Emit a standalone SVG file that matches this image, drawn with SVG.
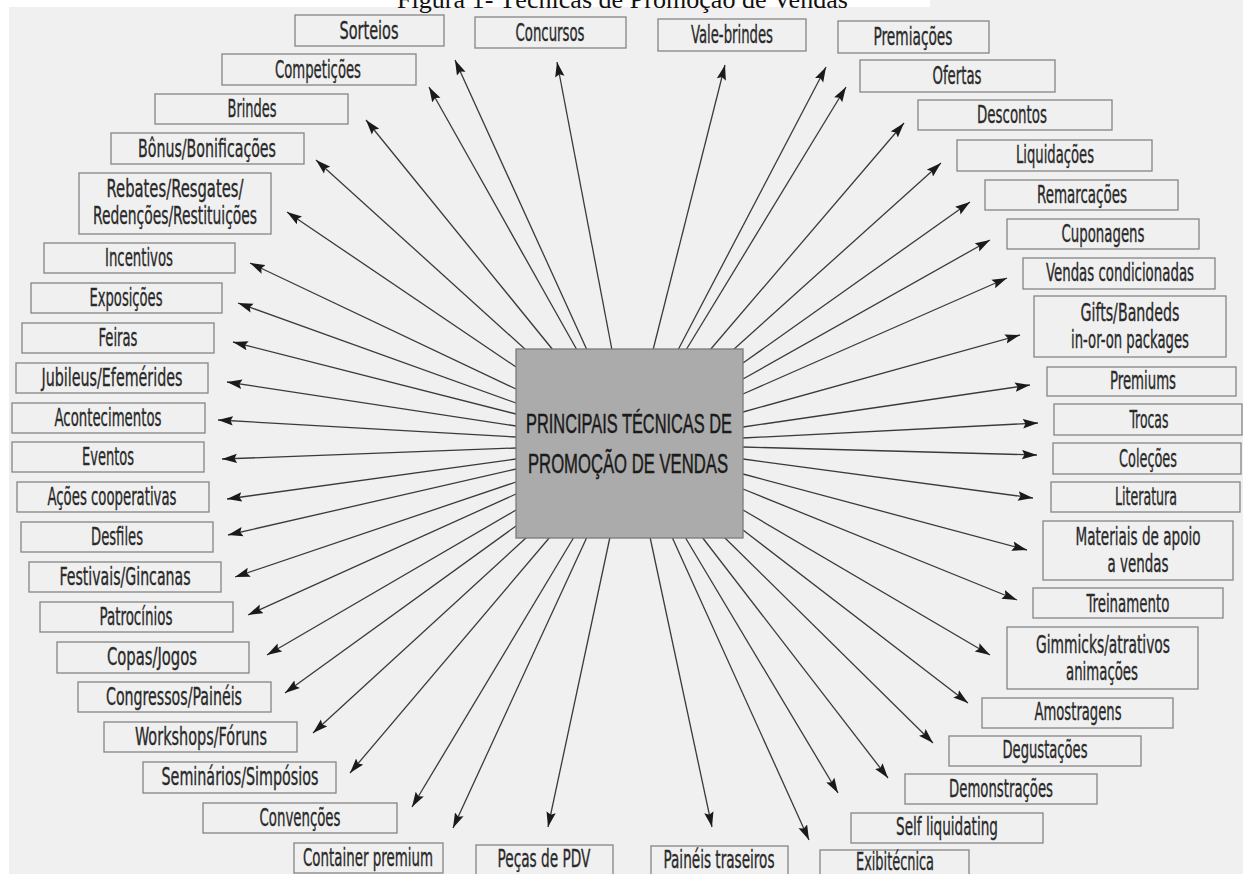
<svg xmlns="http://www.w3.org/2000/svg" width="1243" height="874" viewBox="0 0 1243 874">
<defs>
<marker id="ah" markerUnits="userSpaceOnUse" markerWidth="15" markerHeight="10" viewBox="0 0 15 10" refX="15" refY="5" orient="auto">
<path d="M0,0.3 L15,5 L0,9.7 L2.5,5 Z" fill="#1a1a1a"/>
</marker>
<style>
.bx{fill:none;stroke:#858585;stroke-width:1.3}
.t{font-family:"Liberation Sans Narrow","DejaVu Sans Condensed","Liberation Sans",sans-serif;font-size:24px;fill:#2a2a2a;stroke:#2a2a2a;stroke-width:0.35;text-anchor:middle}
.c{font-family:"Liberation Sans","DejaVu Sans",sans-serif;font-size:28px;fill:#1a1a1a;stroke:#1a1a1a;stroke-width:0.5;text-anchor:middle}
.title{font-family:"Liberation Serif","Times New Roman",serif;font-size:26px;fill:#111}
#connectors line{stroke:#3a3a3a;stroke-width:1.3;marker-end:url(#ah)}
</style>
</defs>
<rect x="0" y="0" width="1243" height="874" fill="#ffffff"/>
<rect x="9" y="7" width="1234" height="867" fill="#f0f0f0"/>
<rect x="930" y="0" width="313" height="8" fill="#f0f0f0"/>
<text class="title" x="397" y="8" textLength="451" lengthAdjust="spacingAndGlyphs">Figura 1- Técnicas de Promoção de Vendas</text>

<g id="connectors">
<line x1="526" y1="350" x2="316" y2="160"/>
<line x1="553" y1="350" x2="366" y2="120"/>
<line x1="577" y1="350" x2="429" y2="87"/>
<line x1="587" y1="350" x2="455" y2="60"/>
<line x1="612" y1="350" x2="557" y2="62"/>
<line x1="653" y1="350" x2="725" y2="65"/>
<line x1="678" y1="350" x2="826" y2="67"/>
<line x1="686" y1="350" x2="846" y2="87"/>
<line x1="710" y1="350" x2="904" y2="123"/>
<line x1="733" y1="350" x2="941" y2="163"/>
<line x1="743" y1="363" x2="970" y2="202"/>
<line x1="743" y1="379" x2="990" y2="240"/>
<line x1="743" y1="394" x2="1007" y2="278"/>
<line x1="743" y1="412" x2="1020" y2="335"/>
<line x1="743" y1="427" x2="1030" y2="385"/>
<line x1="743" y1="438" x2="1038" y2="423"/>
<line x1="743" y1="447" x2="1037" y2="455"/>
<line x1="743" y1="459" x2="1033" y2="498"/>
<line x1="743" y1="474" x2="1027" y2="550"/>
<line x1="743" y1="489" x2="1017" y2="600"/>
<line x1="743" y1="510" x2="990" y2="655"/>
<line x1="743" y1="530" x2="968" y2="703"/>
<line x1="724" y1="537" x2="933" y2="743"/>
<line x1="702" y1="537" x2="888" y2="778"/>
<line x1="685" y1="537" x2="838" y2="793"/>
<line x1="672" y1="537" x2="809" y2="840"/>
<line x1="650" y1="537" x2="712" y2="827"/>
<line x1="610" y1="537" x2="548" y2="827"/>
<line x1="587" y1="537" x2="453" y2="828"/>
<line x1="574" y1="537" x2="412" y2="807"/>
<line x1="550" y1="537" x2="350" y2="773"/>
<line x1="527" y1="537" x2="313" y2="733"/>
<line x1="516" y1="526" x2="285" y2="693"/>
<line x1="516" y1="510" x2="267" y2="655"/>
<line x1="516" y1="494" x2="248" y2="615"/>
<line x1="516" y1="482" x2="235" y2="577"/>
<line x1="516" y1="469" x2="228" y2="535"/>
<line x1="516" y1="459" x2="227" y2="499"/>
<line x1="516" y1="448" x2="222" y2="459"/>
<line x1="516" y1="437" x2="218" y2="420"/>
<line x1="516" y1="426" x2="227" y2="382"/>
<line x1="516" y1="414" x2="233" y2="342"/>
<line x1="516" y1="403" x2="238" y2="303"/>
<line x1="516" y1="389" x2="250" y2="263"/>
<line x1="516" y1="367" x2="287" y2="212"/>
</g>

<g id="center">
<rect x="516" y="349" width="227" height="189" fill="#ababab" stroke="#7a7a7a" stroke-width="1.3"/>
<text class="c" x="629" y="433" textLength="206" lengthAdjust="spacingAndGlyphs">PRINCIPAIS TÉCNICAS DE</text>
<text class="c" x="628" y="473" textLength="200" lengthAdjust="spacingAndGlyphs">PROMOÇÃO DE VENDAS</text>
</g>

<g id="sorteios"><rect class="bx" x="295" y="15" width="149" height="31"/><text class="t" x="369" y="39" textLength="59" lengthAdjust="spacingAndGlyphs">Sorteios</text></g>
<g id="concursos"><rect class="bx" x="475" y="17" width="151" height="31"/><text class="t" x="550" y="41" textLength="69" lengthAdjust="spacingAndGlyphs">Concursos</text></g>
<g id="vale-brindes"><rect class="bx" x="658" y="19" width="148" height="32"/><text class="t" x="732" y="43" textLength="82" lengthAdjust="spacingAndGlyphs">Vale-brindes</text></g>
<g id="premiacoes"><rect class="bx" x="838" y="21" width="151" height="32"/><text class="t" x="913" y="45" textLength="79" lengthAdjust="spacingAndGlyphs">Premiações</text></g>

<g id="competicoes"><rect class="bx" x="222" y="54" width="194" height="31"/><text class="t" x="318" y="78" textLength="86" lengthAdjust="spacingAndGlyphs">Competições</text></g>
<g id="brindes"><rect class="bx" x="155" y="94" width="193" height="30"/><text class="t" x="252" y="117" textLength="49" lengthAdjust="spacingAndGlyphs">Brindes</text></g>
<g id="bonus"><rect class="bx" x="111" y="133" width="193" height="31"/><text class="t" x="207" y="157" textLength="138" lengthAdjust="spacingAndGlyphs">Bônus/Bonificações</text></g>
<g id="rebates"><rect class="bx" x="79" y="173" width="192" height="61"/><text class="t" x="175" y="197" textLength="137" lengthAdjust="spacingAndGlyphs">Rebates/Resgates/</text><text class="t" x="175" y="224" textLength="164" lengthAdjust="spacingAndGlyphs">Redenções/Restituições</text></g>
<g id="incentivos"><rect class="bx" x="44" y="243" width="191" height="30"/><text class="t" x="139" y="266" textLength="68" lengthAdjust="spacingAndGlyphs">Incentivos</text></g>
<g id="exposicoes"><rect class="bx" x="31" y="283" width="191" height="30"/><text class="t" x="126" y="306" textLength="73" lengthAdjust="spacingAndGlyphs">Exposições</text></g>
<g id="feiras"><rect class="bx" x="22" y="323" width="192" height="30"/><text class="t" x="118" y="346" textLength="39" lengthAdjust="spacingAndGlyphs">Feiras</text></g>
<g id="jubileus"><rect class="bx" x="16" y="363" width="192" height="30"/><text class="t" x="112" y="386" textLength="141" lengthAdjust="spacingAndGlyphs">Jubileus/Efemérides</text></g>
<g id="acontecimentos"><rect class="bx" x="12" y="403" width="193" height="30"/><text class="t" x="108" y="426" textLength="107" lengthAdjust="spacingAndGlyphs">Acontecimentos</text></g>
<g id="eventos"><rect class="bx" x="12" y="442" width="192" height="30"/><text class="t" x="108" y="465" textLength="52" lengthAdjust="spacingAndGlyphs">Eventos</text></g>
<g id="acoes"><rect class="bx" x="17" y="482" width="192" height="30"/><text class="t" x="112" y="505" textLength="129" lengthAdjust="spacingAndGlyphs">Ações cooperativas</text></g>
<g id="desfiles"><rect class="bx" x="21" y="522" width="192" height="30"/><text class="t" x="117" y="545" textLength="52" lengthAdjust="spacingAndGlyphs">Desfiles</text></g>
<g id="festivais"><rect class="bx" x="29" y="562" width="192" height="30"/><text class="t" x="125" y="585" textLength="131" lengthAdjust="spacingAndGlyphs">Festivais/Gincanas</text></g>
<g id="patrocinios"><rect class="bx" x="40" y="602" width="193" height="30"/><text class="t" x="136" y="625" textLength="73" lengthAdjust="spacingAndGlyphs">Patrocínios</text></g>
<g id="copas"><rect class="bx" x="57" y="642" width="192" height="31"/><text class="t" x="152" y="665" textLength="90" lengthAdjust="spacingAndGlyphs">Copas/Jogos</text></g>
<g id="congressos"><rect class="bx" x="78" y="682" width="193" height="30"/><text class="t" x="174" y="705" textLength="136" lengthAdjust="spacingAndGlyphs">Congressos/Painéis</text></g>
<g id="workshops"><rect class="bx" x="104" y="722" width="193" height="30"/><text class="t" x="201" y="745" textLength="132" lengthAdjust="spacingAndGlyphs">Workshops/Fóruns</text></g>
<g id="seminarios"><rect class="bx" x="143" y="762" width="193" height="31"/><text class="t" x="240" y="785" textLength="157" lengthAdjust="spacingAndGlyphs">Seminários/Simpósios</text></g>
<g id="convencoes"><rect class="bx" x="203" y="803" width="194" height="30"/><text class="t" x="300" y="826" textLength="81" lengthAdjust="spacingAndGlyphs">Convenções</text></g>

<g id="container"><rect class="bx" x="294" y="843" width="149" height="30"/><text class="t" x="368" y="866" textLength="130" lengthAdjust="spacingAndGlyphs">Container premium</text></g>
<g id="pecas"><rect class="bx" x="476" y="845" width="137" height="31"/><text class="t" x="544" y="867" textLength="93" lengthAdjust="spacingAndGlyphs">Peças de PDV</text></g>
<g id="paineis"><rect class="bx" x="651" y="846" width="137" height="31"/><text class="t" x="719" y="868" textLength="111" lengthAdjust="spacingAndGlyphs">Painéis traseiros</text></g>
<g id="exibitecnica"><rect class="bx" x="820" y="850" width="149" height="31"/><text class="t" x="895" y="870" textLength="78" lengthAdjust="spacingAndGlyphs">Exibitécnica</text></g>

<g id="ofertas"><rect class="bx" x="860" y="60" width="195" height="32"/><text class="t" x="957" y="84" textLength="49" lengthAdjust="spacingAndGlyphs">Ofertas</text></g>
<g id="descontos"><rect class="bx" x="918" y="100" width="194" height="30"/><text class="t" x="1012" y="123" textLength="70" lengthAdjust="spacingAndGlyphs">Descontos</text></g>
<g id="liquidacoes"><rect class="bx" x="957" y="140" width="195" height="31"/><text class="t" x="1055" y="163" textLength="78" lengthAdjust="spacingAndGlyphs">Liquidações</text></g>
<g id="remarcacoes"><rect class="bx" x="985" y="180" width="193" height="30"/><text class="t" x="1082" y="203" textLength="90" lengthAdjust="spacingAndGlyphs">Remarcações</text></g>
<g id="cuponagens"><rect class="bx" x="1007" y="219" width="192" height="30"/><text class="t" x="1103" y="242" textLength="83" lengthAdjust="spacingAndGlyphs">Cuponagens</text></g>
<g id="vendas-condicionadas"><rect class="bx" x="1023" y="258" width="192" height="31"/><text class="t" x="1120" y="281" textLength="148" lengthAdjust="spacingAndGlyphs">Vendas condicionadas</text></g>
<g id="gifts"><rect class="bx" x="1034" y="296" width="192" height="61"/><text class="t" x="1130" y="321" textLength="99" lengthAdjust="spacingAndGlyphs">Gifts/Bandeds</text><text class="t" x="1130" y="348" textLength="118" lengthAdjust="spacingAndGlyphs">in-or-on packages</text></g>
<g id="premiums"><rect class="bx" x="1047" y="367" width="189" height="29"/><text class="t" x="1143" y="389" textLength="66" lengthAdjust="spacingAndGlyphs">Premiums</text></g>
<g id="trocas"><rect class="bx" x="1054" y="404" width="188" height="31"/><text class="t" x="1149" y="428" textLength="39" lengthAdjust="spacingAndGlyphs">Trocas</text></g>
<g id="colecoes"><rect class="bx" x="1053" y="443" width="188" height="31"/><text class="t" x="1148" y="467" textLength="58" lengthAdjust="spacingAndGlyphs">Coleções</text></g>
<g id="literatura"><rect class="bx" x="1051" y="482" width="189" height="30"/><text class="t" x="1146" y="505" textLength="62" lengthAdjust="spacingAndGlyphs">Literatura</text></g>
<g id="materiais"><rect class="bx" x="1043" y="521" width="190" height="59"/><text class="t" x="1138" y="545" textLength="125" lengthAdjust="spacingAndGlyphs">Materiais de apoio</text><text class="t" x="1138" y="572" textLength="61" lengthAdjust="spacingAndGlyphs">a vendas</text></g>
<g id="treinamento"><rect class="bx" x="1033" y="588" width="190" height="30"/><text class="t" x="1128" y="612" textLength="83" lengthAdjust="spacingAndGlyphs">Treinamento</text></g>
<g id="gimmicks"><rect class="bx" x="1007" y="627" width="191" height="62"/><text class="t" x="1103" y="653" textLength="134" lengthAdjust="spacingAndGlyphs">Gimmicks/atrativos</text><text class="t" x="1102" y="680" textLength="72" lengthAdjust="spacingAndGlyphs">animações</text></g>
<g id="amostragens"><rect class="bx" x="982" y="698" width="191" height="30"/><text class="t" x="1078" y="720" textLength="87" lengthAdjust="spacingAndGlyphs">Amostragens</text></g>
<g id="degustacoes"><rect class="bx" x="949" y="736" width="192" height="30"/><text class="t" x="1045" y="758" textLength="85" lengthAdjust="spacingAndGlyphs">Degustações</text></g>
<g id="demonstracoes"><rect class="bx" x="905" y="774" width="192" height="30"/><text class="t" x="1001" y="797" textLength="104" lengthAdjust="spacingAndGlyphs">Demonstrações</text></g>
<g id="self-liquidating"><rect class="bx" x="851" y="813" width="192" height="30"/><text class="t" x="947" y="835" textLength="102" lengthAdjust="spacingAndGlyphs">Self liquidating</text></g>
</svg>
